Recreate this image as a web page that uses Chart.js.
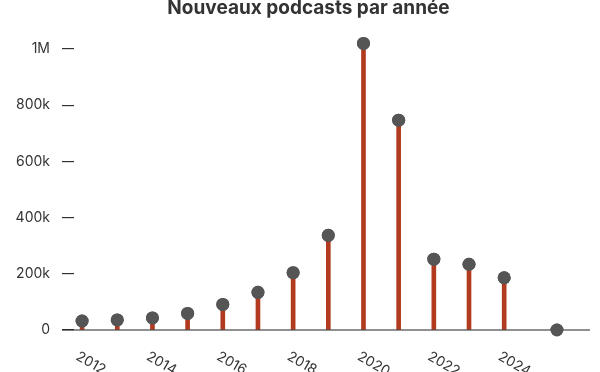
<!DOCTYPE html>
<html>
<head>
<meta charset="utf-8">
<script src="https://cdn.jsdelivr.net/npm/chart.js@4"></script>
<style>
  html, body { margin: 0; padding: 0; background: #fff; }
  #wrap { width: 600px; height: 372px; position: relative; }
</style>
</head>
<body>
<div id="wrap"><canvas id="chart"></canvas></div>
<script>
// Données (2025 = année en cours, placée à mi-année)
const years = [2012, 2013, 2014, 2015, 2016, 2017, 2018, 2019, 2020, 2021, 2022, 2023, 2024, 2025.5];
const newPodcasts = [32000, 36000, 43000, 59000, 91000, 134000, 204000, 337000, 1020000, 747000, 252000, 234000, 186000, 0];

const xTickYears = [2012, 2014, 2016, 2018, 2020, 2022, 2024];
const yTickValues = [0, 200000, 400000, 600000, 800000, 1000000];
const yTickLabels = ['0', '200k', '400k', '600k', '800k', '1M'];

const chartTitle = 'Nouveaux podcasts par année';

const points = years.map((y, i) => ({ x: y, y: newPodcasts[i] }));

// Titre, ligne de base et étiquettes inclinées de l'axe x
const decorPlugin = {
    id: 'decor',
    afterDraw(chart) {
        const ctx = chart.ctx;
        const xs = chart.scales.x;
        const ys = chart.scales.y;
        const y0 = ys.getPixelForValue(0);

        ctx.save();
        // ligne de base
        ctx.strokeStyle = '#222';
        ctx.lineWidth = 1.2;
        ctx.beginPath();
        ctx.moveTo(xs.left - 12, y0);
        ctx.lineTo(xs.right, y0);
        ctx.stroke();

        // étiquettes x
        ctx.fillStyle = '#333';
        ctx.font = '14px Inter, "Noto Sans", sans-serif';
        ctx.textAlign = 'left';
        ctx.textBaseline = 'alphabetic';
        xTickYears.forEach(yr => {
            const px = xs.getPixelForValue(yr);
            ctx.save();
            ctx.translate(px - 7, 359);
            ctx.rotate(Math.PI / 6);
            ctx.fillText(String(yr), 0, 0);
            ctx.restore();
        });

        // titre
        ctx.fillStyle = '#333';
        ctx.font = 'bold 19px Inter, "Noto Sans", sans-serif';
        ctx.textAlign = 'center';
        ctx.fillText(chartTitle, 308.5, 13.5);
        ctx.restore();

        // redessiner les points par-dessus la ligne de base
        chart.getDatasetMeta(1).controller.draw();
    }
};

new Chart(document.getElementById('chart'), {
    type: 'bar',
    data: {
        datasets: [
            {
                type: 'bar',
                data: points,
                backgroundColor: '#b23a1e',
                barThickness: 4,
                borderWidth: 0,
                order: 1
            },
            {
                type: 'line',
                data: points,
                showLine: false,
                pointRadius: 6.5,
                pointHoverRadius: 6.5,
                pointBackgroundColor: '#555555',
                pointBorderWidth: 0,
                order: 0
            }
        ]
    },
    options: {
        responsive: true,
        maintainAspectRatio: false,
        animation: false,
        layout: { padding: { top: 35, bottom: 42, left: 0, right: 10 } },
        plugins: {
            legend: { display: false },
            title: { display: false },
            tooltip: { enabled: false }
        },
        scales: {
            x: {
                type: 'linear',
                display: false,
                offset: false,
                min: 2011.77,
                max: 2026.44
            },
            y: {
                min: 0,
                max: 1050000,
                border: { display: false },
                grid: {
                    drawOnChartArea: false,
                    drawTicks: true,
                    tickLength: 12,
                    color: '#333',
                    lineWidth: 1.2
                },
                afterBuildTicks(scale) {
                    scale.ticks = yTickValues.map(v => ({ value: v }));
                },
                afterFit(scale) {
                    scale.width = 74;
                },
                ticks: {
                    padding: 12,
                    color: '#333',
                    font: { family: 'Inter, "Noto Sans", sans-serif', size: 14 },
                    callback: (value) => yTickLabels[yTickValues.indexOf(value)]
                }
            }
        }
    },
    plugins: [decorPlugin]
});
</script>
</body>
</html>
